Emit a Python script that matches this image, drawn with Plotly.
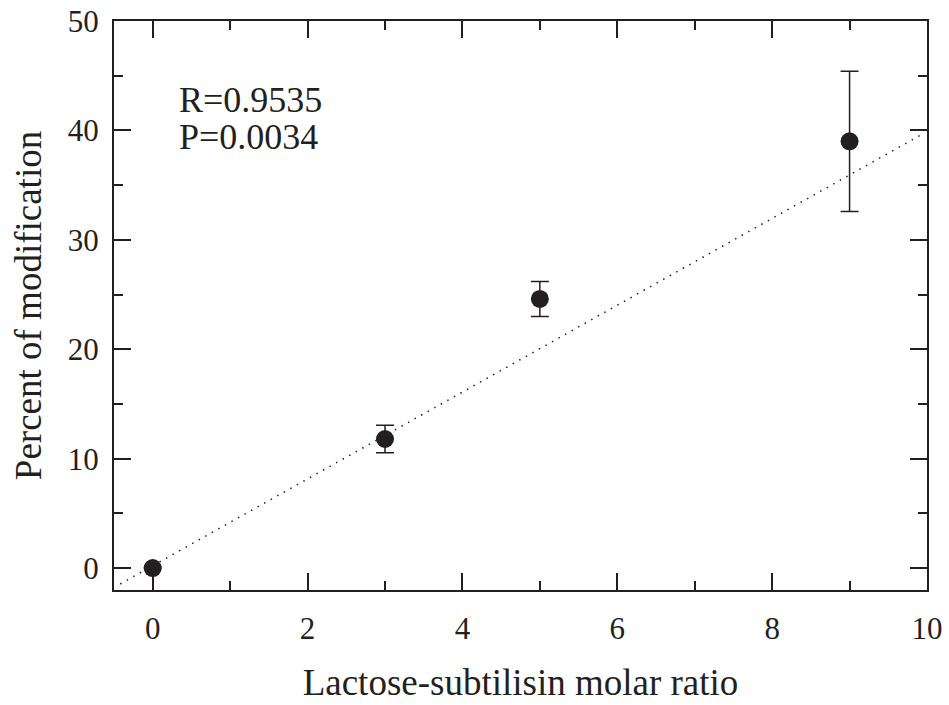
import plotly.graph_objects as go

# measured points
ratio = [0, 3, 5, 9]
percent = [0.0, 11.8, 24.6, 39.0]
err = [0.0, 1.25, 1.6, 6.4]

# regression line endpoints
fit_x = [-0.42, 9.95]
fit_y = [-1.45, 39.7]

stats_lines = ['R=0.9535', 'P=0.0034']

ink = '#231f20'
font_family = 'Liberation Serif, Times New Roman, serif'

fig = go.Figure()

fig.add_trace(go.Scatter(
    x=fit_x, y=fit_y, mode='lines',
    line=dict(color=ink, width=1.5, dash='1.5px,6px'),
    hoverinfo='skip'
))

fig.add_trace(go.Scatter(
    x=ratio, y=percent, mode='markers',
    marker=dict(size=18, color=ink),
    error_y=dict(type='data', array=err, visible=True,
                 color=ink, thickness=1.5, width=9)
))

axis_style = dict(
    showline=True, linecolor=ink, linewidth=2, mirror='ticks',
    ticks='inside', ticklen=17, tickwidth=1.5, tickcolor=ink,
    showgrid=False, zeroline=False,
    tickfont=dict(family=font_family, size=31, color=ink),
)

fig.update_layout(
    width=949, height=705,
    margin=dict(l=114, r=22, t=21, b=115),
    plot_bgcolor='white', paper_bgcolor='white',
    showlegend=False,
    xaxis=dict(
        range=[-0.5, 10], tick0=0, dtick=2, ticklabelstandoff=10,
        automargin=False,
        minor=dict(dtick=1, ticks='inside', ticklen=9, tickwidth=1.5, tickcolor=ink),
        title=dict(text='Lactose-subtilisin molar ratio', standoff=24,
                   font=dict(family=font_family, size=37, color=ink)),
        **axis_style
    ),
    yaxis=dict(
        range=[-2, 50], tick0=0, dtick=10, ticklabelstandoff=7,
        automargin='left',
        minor=dict(dtick=5, ticks='inside', ticklen=9, tickwidth=1.5, tickcolor=ink),
        title=dict(text='Percent of modification', standoff=15,
                   font=dict(family=font_family, size=37, color=ink)),
        **axis_style
    ),
)

for txt, ypos in zip(stats_lines, [0.861, 0.796]):
    fig.add_annotation(
        text=txt, x=0.077, y=ypos,
        xref='paper', yref='paper', xanchor='left', yanchor='middle',
        showarrow=False, align='left',
        font=dict(family=font_family, size=36, color=ink)
    )

fig.write_html("out.html", config={'displayModeBar': False},
               post_script="document.body.style.margin='0';")
